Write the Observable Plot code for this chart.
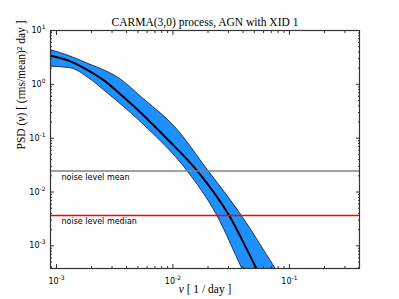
<!DOCTYPE html>
<html><head><meta charset="utf-8">
<script src="https://cdn.jsdelivr.net/npm/d3@7"></script>
<script src="https://cdn.jsdelivr.net/npm/@observablehq/plot@0.6"></script>
<style>body{margin:0;background:#fff}</style>
</head><body><div id="chart"></div>
<script>
const title = "CARMA(3,0) process, AGN with XID 1";
const xLabel = "ν [ 1 / day ]";
const yLabel = "PSD (ν) [ (rms/mean)² day ]";

// median PSD curve
const nuMedian  = [8.88e-4, 1.267e-3, 1.884e-3, 2.79e-3, 3.27e-3, 5.81e-3, 8.63e-3, 0.01622, 0.0303, 0.0521, 0.0631];
const psdMedian = [3.40, 2.75, 1.79, 1.02, 0.76, 0.245, 0.104, 0.0245, 0.00371, 3.8e-4, 1.71e-4];
// upper edge of the confidence band
const nuUpper  = [8.88e-4, 1.267e-3, 1.884e-3, 2.79e-3, 3.27e-3, 5.81e-3, 0.0105, 0.0202, 0.0387, 0.0759, 0.1];
const psdUpper = [4.34, 3.40, 2.39, 1.67, 1.39, 0.499, 0.158, 0.0245, 0.00371, 3.8e-4, 1.49e-4];
// lower edge of the confidence band
const nuLower  = [8.88e-4, 1.267e-3, 1.376e-3, 1.884e-3, 2.79e-3, 3.27e-3, 5.81e-3, 0.01330, 0.02388, 0.03927, 0.0501];
const psdLower = [2.13, 2.01, 1.95, 1.31, 0.664, 0.499, 0.165, 0.0245, 0.00371, 3.8e-4, 1.28e-4];

const noiseMean = 0.0245;
const noiseMedian = 0.00365;
const noiseLabels = ["noise level mean", "noise level median"];

const xDomain = [8.88e-4, 0.4];
const yDomain = [3.8e-4, 10];
const xMajor = [1e-3, 1e-2, 1e-1];
const yMajor = [1e-3, 1e-2, 1e-1, 1, 10];

function minors(domain) {
  const out = [];
  for (let e = -5; e <= 2; e++) for (let m = 2; m <= 9; m++) {
    const v = m * Math.pow(10, e);
    if (v >= domain[0] && v <= domain[1]) out.push(v);
  }
  return out;
}
const xMinor = minors(xDomain);
const yMinor = minors(yDomain);

const fmt = d => "10^" + Math.round(Math.log10(d));
const blank = () => "";

const median = nuMedian.map((x, i) => ({x, y: psdMedian[i]}));
const band = nuUpper.map((x, i) => ({xu: x, yu: psdUpper[i], xl: nuLower[i], yl: psdLower[i]}));

const frameColor = "#333";
const serif = "Liberation Serif";

const chart = Plot.plot({
  width: 399, height: 299,
  marginLeft: 50, marginRight: 40, marginTop: 30, marginBottom: 31,
  style: {fontFamily: "DejaVu Sans", fontSize: "8px", background: "#fff", color: "#000"},
  x: {type: "log", domain: xDomain, axis: null},
  y: {type: "log", domain: yDomain, axis: null},
  marks: [
    Plot.area(band, {x1: "xl", y1: "yl", x2: "xu", y2: "yu", fill: "#1E90FF", stroke: "#000", strokeWidth: 0.7, curve: "monotone-x", clip: true}),
    Plot.line(median, {x: "x", y: "y", stroke: "#000", strokeWidth: 2, curve: "monotone-x", clip: true}),
    Plot.ruleY([noiseMean], {stroke: "#808080", strokeWidth: 1.5}),
    Plot.ruleY([noiseMedian], {stroke: "#ff0000", strokeWidth: 1.5}),
    Plot.text([noiseLabels[0]], {frameAnchor: "left", y: () => noiseMean, text: d => d, textAnchor: "start", lineAnchor: "top", dx: 11, dy: 3, fontSize: 8}),
    Plot.text([noiseLabels[1]], {frameAnchor: "left", y: () => noiseMedian, text: d => d, textAnchor: "start", lineAnchor: "top", dx: 11, dy: 3, fontSize: 8}),
    Plot.axisX(xMajor, {anchor: "bottom", tickSize: -4, tickPadding: 14, tickFormat: fmt, label: null, stroke: frameColor}),
    Plot.axisX(xMajor, {anchor: "top", tickSize: -4, tickFormat: blank, label: null, stroke: frameColor}),
    Plot.axisX(xMinor, {anchor: "bottom", tickSize: -2, tickFormat: blank, label: null, stroke: frameColor}),
    Plot.axisX(xMinor, {anchor: "top", tickSize: -2, tickFormat: blank, label: null, stroke: frameColor}),
    Plot.axisY(yMajor, {anchor: "left", tickSize: -4, tickPadding: 9, tickFormat: fmt, label: null, stroke: frameColor}),
    Plot.axisY(yMajor, {anchor: "right", tickSize: -4, tickFormat: blank, label: null, stroke: frameColor}),
    Plot.axisY(yMinor, {anchor: "left", tickSize: -2, tickFormat: blank, label: null, stroke: frameColor}),
    Plot.axisY(yMinor, {anchor: "right", tickSize: -2, tickFormat: blank, label: null, stroke: frameColor}),
    Plot.frame({stroke: frameColor, strokeWidth: 1.2}),
    Plot.text([title], {frameAnchor: "top", lineAnchor: "middle", text: d => d, dy: -8, fontFamily: serif, fontSize: 11.5}),
    Plot.text([xLabel], {frameAnchor: "bottom", lineAnchor: "middle", text: d => d, dy: 21, fontFamily: serif, fontSize: 11.5}),
    Plot.text([yLabel], {frameAnchor: "left", text: d => d, dx: -29, rotate: -90, fontFamily: serif, fontSize: 11.5})
  ]
});
document.getElementById("chart").appendChild(chart);

// italic nu in the axis labels, superscript exponents in tick labels
d3.select(chart).selectAll("text").each(function() {
  const t = this.textContent;
  const sel = d3.select(this);
  if (t === xLabel || t === yLabel) {
    sel.text(null);
    t.split(/(ν)/).forEach(part => {
      if (!part) return;
      const ts = sel.append("tspan").text(part);
      if (part === "ν") ts.attr("font-style", "italic");
    });
  } else {
    const m = /^10\^(-?\d+)$/.exec(t);
    if (m) {
      sel.text(null);
      sel.append("tspan").text("10");
      sel.append("tspan").attr("dy", "-4").attr("font-size", "6px").text(m[1]);
    }
  }
});
</script>
</body></html>
